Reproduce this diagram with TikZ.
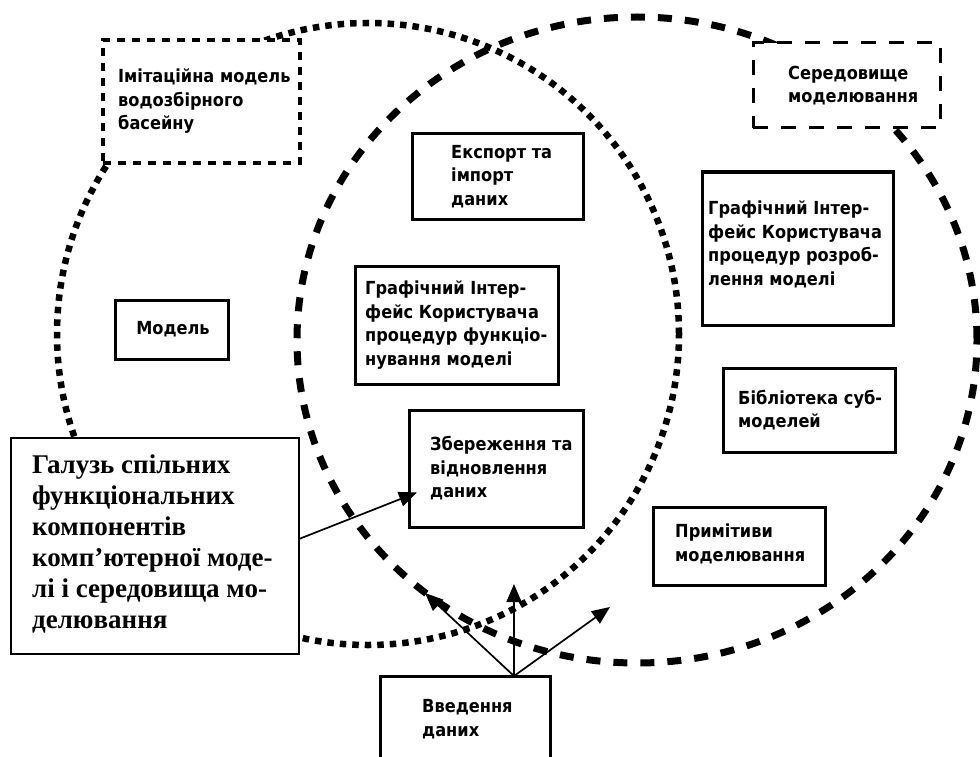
\documentclass[tikz,border=0pt]{standalone}
\usepackage{fontspec}
\setmainfont{Liberation Serif}
\newfontfamily\boxfont{DejaVu Sans}[FakeStretch=0.9]
\usetikzlibrary{arrows.meta}
\tikzset{
  dotcirc/.style={line width=6.5pt, dash pattern=on 6.5pt off 6pt},
  dashcirc/.style={line width=7pt, dash pattern=on 14pt off 13pt},
  sbox/.style={draw, line width=3pt, fill=white, inner sep=0pt, outer sep=0pt},
  shortdashbox/.style={draw, line width=3.5pt, fill=white, dash pattern=on 8pt off 7pt, inner sep=0pt, outer sep=0pt},
  longdashbox/.style={draw, line width=3pt, fill=white, dash pattern=on 15pt off 13pt, inner sep=0pt, outer sep=0pt},
  notebox/.style={draw, line width=2pt, fill=white, inner sep=0pt, outer sep=0pt},
  txt/.style={inner sep=0pt, align=left, font=\boxfont\bfseries\fontsize{18}{23.5}\selectfont},
  notetxt/.style={inner sep=0pt, align=left, font=\bfseries\fontsize{27}{31}\selectfont},
  arr/.style={line width=1.7pt, -{Triangle[length=18pt,width=15pt]}}
}
\begin{document}
\begin{tikzpicture}[x=1pt,y=-1pt]
\clip (0,0) rectangle (980,757);
\fill[white] (0,0) rectangle (980,757);

% circles
\draw[dotcirc] (368,334) circle [radius=311pt];
\draw[dashcirc] (637,340) ellipse [x radius=340pt, y radius=323pt];

% boxes
\node[shortdashbox, minimum width=197pt, minimum height=123pt] (imit) at (201.5,101.5) {};
\node[txt, anchor=west] (imitt) at ([xshift=15pt]imit.west) {Імітаційна модель\\водозбірного\\басейну};

\node[longdashbox, minimum width=187pt, minimum height=85pt] (sered) at (846.5,85.5) {};
\node[txt, anchor=west] (seredt) at ([xshift=35pt]sered.west) {Середовище\\моделювання};

\node[sbox, minimum width=171pt, minimum height=85pt] (exp) at (497.5,176.5) {};
\node[txt, anchor=west] (expt) at ([xshift=39pt]exp.west) {Експорт та\\імпорт\\даних};

\node[sbox, minimum width=113pt, minimum height=59pt] (model) at (171.5,329.5) {};
\node[txt] (modelt) at ([xshift=1.5pt]model.center) {Модель};

\node[sbox, minimum width=203pt, minimum height=118pt] (gfun) at (456.5,325) {};
\node[txt, anchor=west] (gfunt) at ([xshift=10pt]gfun.west) {Графічний Інтер-\\фейс Користувача\\процедур функціо-\\нування моделі};

\node[sbox, minimum width=174pt, minimum height=117pt] (zber) at (496,468.5) {};
\node[txt, anchor=west] (zbert) at ([xshift=21pt]zber.west) {Збереження та\\відновлення\\даних};

\node[sbox, minimum width=191pt, minimum height=153pt] (grozr) at (797.5,248.5) {};
\node[txt, anchor=west] (grozrt) at ([xshift=6pt,yshift=4pt]grozr.west) {Графічний Інтер-\\фейс Користувача\\процедур розроб-\\лення моделі};

\node[sbox, minimum width=172pt, minimum height=84pt] (bibl) at (809,410) {};
\node[txt, anchor=west] (biblt) at ([xshift=15pt]bibl.west) {Бібліотека суб-\\моделей};

\node[sbox, minimum width=172pt, minimum height=78pt] (prim) at (739,546) {};
\node[txt, anchor=west] (primt) at ([xshift=22pt,yshift=2pt]prim.west) {Примітиви\\моделювання};

\node[sbox, minimum width=170pt, minimum height=114pt] (vved) at (465,733) {};
\node[txt, anchor=west] (vvedt) at (422,719) {Введення\\даних};

\node[notebox, minimum width=288pt, minimum height=216pt] (galuz) at (155,546) {};
\node[notetxt, anchor=west] (galuzt) at ([xshift=21pt,yshift=2pt]galuz.west) {Галузь спільних\\функціональних\\компонентів\\комп’ютерної моде-\\лі і середовища мо-\\делювання};

% connectors
\coordinate (t1) at (425,593);
\coordinate (t2) at (514,584);
\coordinate (t3) at (610,607);
\draw[arr] ([yshift=7pt]galuz.east) -- ([yshift=-24pt,xshift=8pt]zber.west);
\draw[arr] ([xshift=-36pt]vved.north east) -- (t1);
\draw[arr] ([xshift=-36pt]vved.north east) -- (t2);
\draw[arr] ([xshift=-36pt]vved.north east) -- (t3);
\end{tikzpicture}
\end{document}
